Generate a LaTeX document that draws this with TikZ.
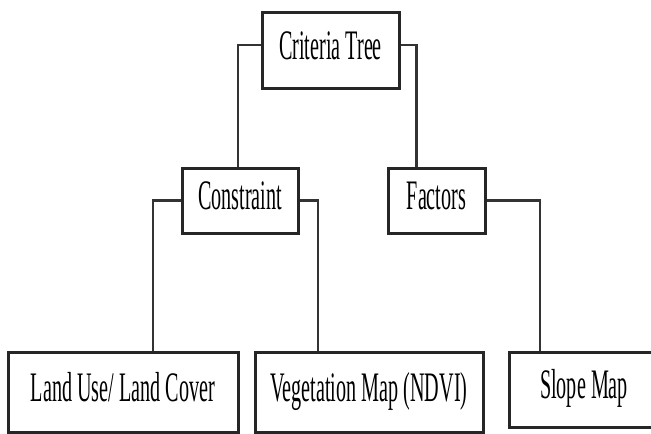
\documentclass[tikz,border=0pt]{standalone}
\usepackage{fontspec}
\newfontfamily\treefont{Liberation Serif}[FakeStretch=0.48]
\usetikzlibrary{positioning,calc}

\tikzset{
  critbox/.style={draw=black!85, line width=3pt, inner sep=0pt,
    font=\treefont\fontsize{42}{46}\selectfont, text height=27pt, text depth=9pt},
  link/.style={draw=black!80, line width=2.4pt},
}

\begin{document}
\begin{tikzpicture}[x=1pt,y=-1pt]
\useasboundingbox (0,0) rectangle (651,434);
% root
\node[critbox, minimum width=137, minimum height=76] (tree) at (330.5,50) {Criteria Tree};
% second level
\node[critbox, minimum width=116, minimum height=65] (cons) at (240,200.5) {Constraint};
\node[critbox, minimum width=97, minimum height=65] (fact) at (436.5,200.5) {Factors};
% criteria maps
\node[critbox, minimum width=230, minimum height=80] (land) at (123,392) {Land Use/ Land Cover};
\node[critbox, minimum width=228, minimum height=80] (veg) at (369,392) {Vegetation Map (NDVI)};
\node[critbox, minimum width=150, minimum height=75] (slope) at (584,389.5) {Slope Map};
% connectors
\draw[link] ([yshift=5pt]tree.west) -| ([xshift=-2pt]cons.north);
\draw[link] ([yshift=5pt]tree.east) -| ([xshift=-20pt]fact.north);
\draw[link] (cons.west) -| ([xshift=30pt]land.north);
\draw[link] (cons.east) -| ([xshift=-51pt]veg.north);
\draw[link] (fact.east) -| ([xshift=-44pt]slope.north);
\end{tikzpicture}
\end{document}
